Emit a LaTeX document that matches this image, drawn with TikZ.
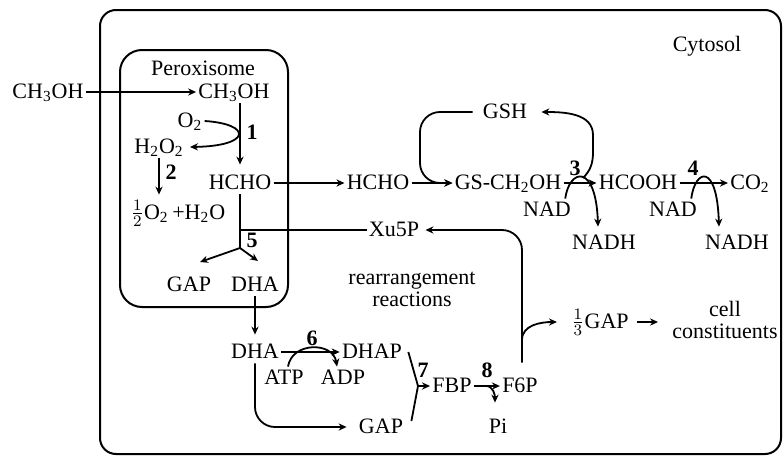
\documentclass[tikz,border=0pt]{standalone}
\usepackage{fontspec}
\setmainfont{Liberation Serif}
\usetikzlibrary{arrows.meta}
\tikzset{
  mol/.style={inner sep=1pt,text height=7.5pt,text depth=1.5pt,font=\fontsize{11}{12}\selectfont},
  note/.style={inner sep=1pt,align=center,font=\fontsize{11}{11}\selectfont},
  num/.style={inner sep=0pt,font=\fontsize{11}{12}\selectfont\bfseries},
  lin/.style={line width=0.9pt},
  arr/.style={lin,-{Stealth[length=4pt,width=3.6pt]}},
  compart/.style={draw,line width=1pt}
}

\begin{document}
\begin{tikzpicture}[x=0.5pt,y=0.5pt]
\useasboundingbox (0,0) rectangle (783,457);
\draw[compart,rounded corners=8pt] (100,3) rectangle (781,447);
\draw[compart,rounded corners=11pt] (120,150) rectangle (288,407);
\node[mol] (per) at (203,388) {Peroxisome};
\node[mol] (cyto) at (707,412) {Cytosol};
\node[mol] (meOut) at (48,365) {CH\textsubscript{3}OH};
\node[mol] (meIn) at (234,365) {CH\textsubscript{3}OH};
\node[mol] (oxy) at (190,336) {O\textsubscript{2}};
\node[mol] (hp) at (159,310) {H\textsubscript{2}O\textsubscript{2}};
\node[mol] (fIn) at (240,274) {HCHO};
\node[mol] (wat) at (178,244) {$\frac{1}{2}$O\textsubscript{2}\,+H\textsubscript{2}O};
\node[mol] (gapP) at (189,172) {GAP};
\node[mol] (dhaP) at (255,172) {DHA};
\node[mol] (fOut) at (378,274) {HCHO};
\node[mol] (gsc) at (508,274) {GS-CH\textsubscript{2}OH};
\node[mol] (gsh) at (505,345) {GSH};
\node[mol] (form) at (638,274) {HCOOH};
\node[mol] (co) at (750,274) {CO\textsubscript{2}};
\node[mol] (nadA) at (547,247) {NAD};
\node[mol] (nadhA) at (604,214) {NADH};
\node[mol] (nadB) at (673,247) {NAD};
\node[mol] (nadhB) at (737,214) {NADH};
\node[mol] (xu) at (394,227) {Xu5P};
\node[note] (rr) at (412,168) {rearrangement\\reactions};
\node[mol] (gapT) at (600,135) {$\frac{1}{3}$GAP};
\node[note] (cc) at (725,137) {cell\\constituents};
\node[mol] (dhaC) at (255,105) {DHA};
\node[mol] (dhap) at (372,105) {DHAP};
\node[mol] (atp) at (284,79) {ATP};
\node[mol] (adp) at (343,79) {ADP};
\node[mol] (gapC) at (381,30) {GAP};
\node[mol] (fbp) at (452,71) {FBP};
\node[mol] (f6p) at (520,71) {F6P};
\node[mol] (pi) at (498,30) {Pi};
\foreach \n/\x/\y in {1/252/325,2/171/285,3/575/289,4/693/289,5/252/217,6/312/119,7/423/87,8/487/87}
  \node[num] (n\n) at (\x,\y) {\n};
\coordinate (jv) at (240,209); \coordinate (ga) at (200,195); \coordinate (da) at (258,196);
\coordinate (ra) at (583,279); \coordinate (rs) at (418,71); \coordinate (rp) at (486,71);
\coordinate (br) at (522,117);
\draw[arr] (meOut) -- (meIn);
\draw[arr,shorten >=3.5pt] (fIn.north |- meIn.south) -- (fIn.north);
\draw[arr] (oxy.east) .. controls (252,333) and (252,311) .. ([xshift=2pt]hp.east);
\draw[arr,shorten >=3.5pt] (hp.south) -- (hp.south |- wat.north);
\draw[arr] (fIn) -- (fOut);
\draw[lin] (fIn.south) -- (jv);
\draw[arr] (jv) -- (ga); \draw[arr] (jv) -- (da);
\draw[lin] (xu.west) -- (xu.west -| fIn.south);
\draw[arr,shorten >=3pt] (dhaP.south) -- (dhaC.north);
\draw[arr] (fOut) -- (gsc);
\draw[arr,rounded corners=10pt] ([xshift=-4pt]gsh.west) -| (420,274) -- (gsc.west);
\draw[arr] (gsc) -- (form);
\draw[arr] ([xshift=-4pt]nadA.north east) .. controls +(4,30) and +(-2,64) .. ([xshift=-3pt,yshift=2.5pt]nadhA.north);
\draw[arr] (ra) to[out=45,in=-90] (593,305) -- (593,322) to[out=90,in=0] ([xshift=6pt]gsh.east);
\draw[arr] (form) -- (co);
\draw[arr] ([xshift=-4pt]nadB.north east) .. controls +(4,30) and +(-2,64) .. ([xshift=-9pt,yshift=2.5pt]nadhB.north);
\draw[arr,rounded corners=10pt] ([xshift=1pt,yshift=6pt]f6p.north) |- ([xshift=2pt]xu.east);
\draw[arr] (br) to[out=90,in=180] ([xshift=-6pt]gapT.west);
\draw[arr,shorten <=3pt,shorten >=6pt] (gapT.east) -- (gapT.east -| cc.west);
\draw[arr] (dhaC) -- (dhap);
\draw[arr] ([xshift=2pt]atp.north) .. controls +(4,25) and +(-4,25) .. ([xshift=-3pt]adp.north);
\draw[arr,rounded corners=10pt] (dhaC.south) |- ([xshift=-5pt]gapC.west);
\draw[lin] ([xshift=2pt]dhap.east) -- (rs) -- ([xshift=3pt,yshift=3pt]gapC.east);
\draw[arr] (rs) -- (fbp);
\draw[arr] (fbp) -- (f6p);
\draw[arr] (rp) to[out=0,in=90] ([xshift=-1.5pt,yshift=6.5pt]pi.north);
\end{tikzpicture}
\end{document}
